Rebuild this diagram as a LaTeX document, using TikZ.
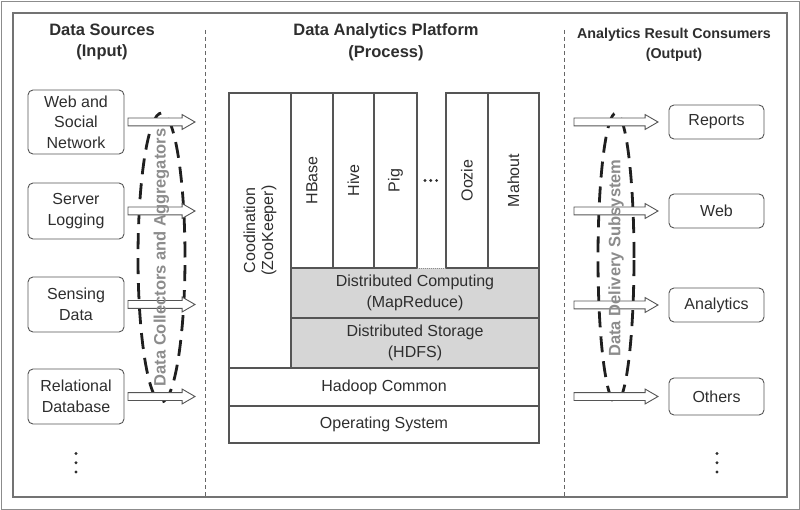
\documentclass[tikz,border=0pt]{standalone}
\usepackage{fontspec}
\setmainfont{Liberation Sans}
\usetikzlibrary{shapes.arrows,shapes.geometric}
\definecolor{linec}{HTML}{555555}
\definecolor{txtc}{HTML}{2E2E2E}
\definecolor{fillg}{HTML}{D6D6D6}
\definecolor{rotg}{HTML}{8C8C8C}
\tikzset{
  every node/.style={inner sep=0pt, outer sep=0pt, text=txtc, align=center,
    font=\fontsize{16}{20.5}\selectfont},
  hdr/.style={font=\bfseries\fontsize{16.5}{21.5}\selectfont},
  hdrsmall/.style={font=\bfseries\fontsize{14.3}{19.5}\selectfont},
  srcbox/.style={draw=linec, line width=0.9pt, rounded corners=5pt, minimum width=96pt},
  outbox/.style={draw=linec, line width=0.9pt, rounded corners=5pt, minimum width=95pt},
  blk/.style={draw=linec, line width=1.1pt},
  gblk/.style={fill=fillg},
  harrow/.style={single arrow, draw=linec, fill=white, line width=0.9pt,
    inner sep=3.5pt, single arrow head extend=3.5pt, single arrow tip angle=60,
    minimum width=14pt},
  ellnode/.style={ellipse, draw=black!88, line width=2.8pt, dash pattern=on 16pt off 9pt},
  rottxt/.style={rotate=90, text=rotg, font=\bfseries\fontsize{16.5}{20}\selectfont},
  divider/.style={draw=black!60, line width=0.8pt, dash pattern=on 4pt off 3pt},
  dotc/.style={fill=txtc}
}
\begin{document}
\begin{tikzpicture}[x=1pt,y=-1pt]
\useasboundingbox (0,0) rectangle (800,510);
\draw[black!45, line width=0.6pt] (1,1) rectangle (799,509);
\draw[black!55, line width=1.2pt] (13,13) rectangle (787,497);
\draw[divider] (205,30) -- (205,497);
\draw[divider] (564,30) -- (564,497);
\node[hdr] (h1) at (102,42) {Data Sources\\(Input)};
\node[hdr] (h2) at (386,42) {Data Analytics Platform\\(Process)};
\node[hdrsmall] (h3) at (674,45) {Analytics Result Consumers\\(Output)};
\node[srcbox, minimum height=64pt] (web) at (76,122) {Web and\\Social\\Network};
\node[srcbox, minimum height=56pt] (srv) at (76,211) {Server\\Logging};
\node[srcbox, minimum height=55pt] (sens) at (76,304.5) {Sensing\\Data};
\node[srcbox, minimum height=55pt] (rel) at (76,396.5) {Relational\\Database};
\fill[dotc] (76,453.5) circle (1.6pt) (76,462.7) circle (1.6pt) (76,472) circle (1.6pt);
\node[outbox, minimum height=34pt] (rep) at (716.5,122) {Reports};
\node[outbox, minimum height=34pt] (wout) at (716.5,211) {Web};
\node[outbox, minimum height=34pt] (ana) at (716.5,305) {Analytics};
\node[outbox, minimum height=37pt] (oth) at (716.5,396.5) {Others};
\fill[dotc] (717,453.5) circle (1.6pt) (717,462.7) circle (1.6pt) (717,472) circle (1.6pt);
\node[ellnode, minimum width=47pt, minimum height=289pt] (coll) at (161.5,257.5) {};
\node[ellnode, minimum width=36pt, minimum height=290pt] (deliv) at (616,258) {};
\node[harrow, minimum height=67pt, anchor=tail] (a1) at ([xshift=4pt]web.east) {};
\node[harrow, minimum height=67pt, anchor=tail] (a2) at ([xshift=4pt]srv.east) {};
\node[harrow, minimum height=67pt, anchor=tail] (a3) at ([xshift=4pt]sens.east) {};
\node[harrow, minimum height=67pt, anchor=tail] (a4) at ([xshift=4pt]rel.east) {};
\node[harrow, minimum height=84pt, anchor=tip] (b1) at ([xshift=-11pt]rep.west) {};
\node[harrow, minimum height=84pt, anchor=tip] (b2) at ([xshift=-11pt]wout.west) {};
\node[harrow, minimum height=84pt, anchor=tip] (b3) at ([xshift=-11pt]ana.west) {};
\node[harrow, minimum height=84pt, anchor=tip] (b4) at ([xshift=-11pt]oth.west) {};
\node[rottxt] (colltxt) at (coll.center) {Data Collectors and Aggregators};
\node[rottxt] (delivtxt) at (deliv.center) {Data Delivery Subsystem};
\node[gblk, minimum width=248pt, minimum height=50pt] (dc) at (415,293) {Distributed Computing\\(MapReduce)};
\node[blk, gblk, minimum width=248pt, minimum height=50pt] (ds) at (415,343) {Distributed Storage\\(HDFS)};
\node[blk, rotate=90, minimum width=275pt, minimum height=62pt,
  font=\fontsize{16}{18}\selectfont] (coord) at (260,230.5) {Coodination\\(ZooKeeper)};
\node[blk, rotate=90, minimum width=175pt, minimum height=42pt] (hbase) at (312,180.5) {HBase};
\node[blk, rotate=90, minimum width=175pt, minimum height=41pt] (hive) at (353.5,180.5) {Hive};
\node[blk, rotate=90, minimum width=175pt, minimum height=43pt] (pig) at (395.5,180.5) {Pig};
\node[blk, rotate=90, minimum width=175pt, minimum height=42pt] (oozie) at (467,180.5) {Oozie};
\node[blk, rotate=90, minimum width=175pt, minimum height=51pt] (mahout) at (513.5,180.5) {Mahout};
\fill[dotc] (425,180.5) circle (1.6pt) (430.8,180.5) circle (1.6pt) (436.6,180.5) circle (1.6pt);
\draw[black!45, line width=0.8pt, dash pattern=on 1pt off 1pt] (pig.south west) -- (oozie.north west);
\draw[blk] (dc.north east) -- (dc.south east);
\node[blk, minimum width=310pt, minimum height=38pt] (hc) at (384,387) {Hadoop Common};
\node[blk, minimum width=310pt, minimum height=37pt] (os) at (384,424.5) {Operating System};
\end{tikzpicture}
\end{document}
